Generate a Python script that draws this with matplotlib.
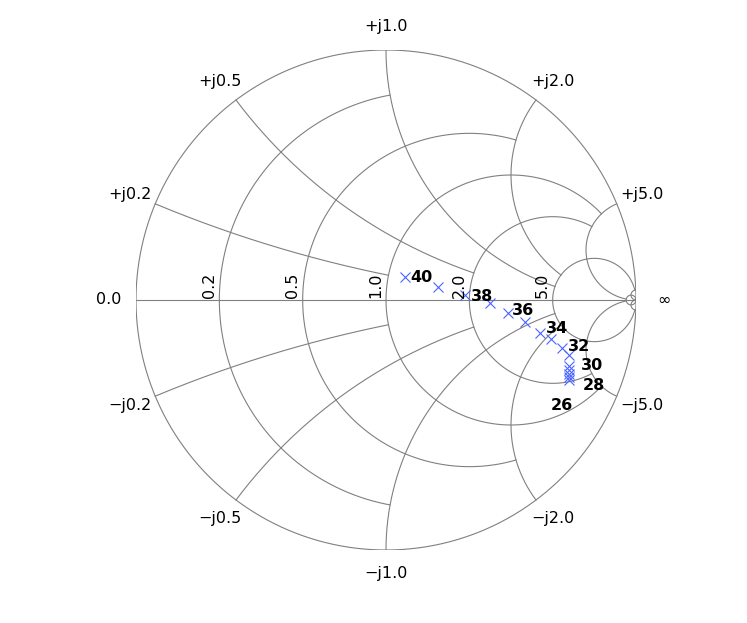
import numpy as np
import matplotlib
matplotlib.use("Agg")
import matplotlib.pyplot as plt

# ---------------- data ----------------
point_ids = [26, 27, 28, 29, 30, 31, 32, 33, 34, 35, 36, 37, 38, 39, 40]
gamma_re = [0.732, 0.732, 0.732, 0.732, 0.731, 0.731, 0.702, 0.660, 0.614,
            0.556, 0.489, 0.416, 0.316, 0.209, 0.076]
gamma_im = [-0.320, -0.308, -0.296, -0.280, -0.264, -0.220, -0.193, -0.156,
            -0.130, -0.087, -0.051, -0.013, 0.020, 0.053, 0.093]
labelled_ids = [26, 28, 30, 32, 34, 36, 38, 40]

res_ticks = [0.2, 0.5, 1.0, 2.0, 5.0]
res_tick_labels = ["0.2", "0.5", "1.0", "2.0", "5.0"]
reac_ticks = [0.2, 0.5, 1.0, 2.0, 5.0]
reac_pos_labels = ["+j0.2", "+j0.5", "+j1.0", "+j2.0", "+j5.0"]
reac_neg_labels = ["\u2212j0.2", "\u2212j0.5", "\u2212j1.0", "\u2212j2.0", "\u2212j5.0"]

# fancy grid: where each arc stops
res_grid = [0.2, 0.5, 1.0, 2.0, 5.0, 50.0]
res_grid_stop = [1.0, 2.0, 5.0, 5.0, 50.0, np.inf]
reac_grid = [0.2, 0.5, 1.0, 2.0, 5.0, 50.0]
reac_grid_stop = [1.0, 2.0, 5.0, 5.0, 50.0, np.inf]

# label offsets in pixels (dx right, dy down)
label_offsets = {40: (5.7, 0.3), 38: (5.7, 1.7), 36: (4.0, -2.7), 34: (6.2, -4.2),
                 32: (6.8, -1.3), 30: (12.6, -1.0), 28: (14.0, 11.7), 26: (-18.3, 25.7)}

# ---------------- figure ----------------
W, H, DPI = 747, 623, 100
fig = plt.figure(figsize=(W / DPI, H / DPI), dpi=DPI)
cx, cy, R = 386, 300, 250
ax = fig.add_axes([(cx - R) / W, (H - cy - R) / H, 2 * R / W, 2 * R / H])
ax.set_xlim(-1, 1)
ax.set_ylim(-1, 1)
ax.axis("off")

grid_color = "0.5"
grid_lw = 0.8


def gam(z):
    return (z - 1) / (z + 1)


# outer circle
t = np.linspace(0, 2 * np.pi, 1000)
ax.plot(np.cos(t), np.sin(t), color=grid_color, lw=grid_lw)
# real axis
ax.plot([-1, 1], [0, 0], color=grid_color, lw=grid_lw)

# resistance circles
for r, xe in zip(res_grid, res_grid_stop):
    c = r / (1 + r)
    rho = 1 / (1 + r)
    if np.isinf(xe):
        th_end = 0.0
    else:
        ge = gam(r + 1j * xe)
        th_end = np.angle(ge - c)
    th = np.linspace(th_end, 2 * np.pi - th_end, 800)
    ax.plot(c + rho * np.cos(th), rho * np.sin(th), color=grid_color, lw=grid_lw)

# reactance arcs
for x, re_stop in zip(reac_grid, reac_grid_stop):
    top = np.arctan(re_stop) if not np.isinf(re_stop) else np.pi / 2 - 1e-7
    psi = np.linspace(0, top, 3000)
    rr = np.tan(psi)
    for s in (1, -1):
        g = gam(rr + 1j * s * x)
        ax.plot(g.real, g.imag, color=grid_color, lw=grid_lw)

fs = 11.5
# real labels
for r, lab in zip(res_ticks, res_tick_labels):
    gl = (r - 1) / (r + 1)
    ax.text(gl - 2.5 / R, 1.5 / R, lab, rotation=90, ha="right", va="bottom",
            fontsize=fs)
ax.text(-1.11, 0, "0.0", ha="center", va="center", fontsize=fs)
ax.text(1.11, 0, "\u221e", ha="center", va="center", fontsize=fs)

# imaginary labels
for x, lp, ln in zip(reac_ticks, reac_pos_labels, reac_neg_labels):
    g = gam(1j * x)
    th = np.angle(g)
    ax.text(1.11 * np.cos(th), 1.093 * np.sin(th), lp, ha="center", va="center",
            fontsize=fs, clip_on=False)
    ax.text(1.11 * np.cos(th), -1.093 * np.sin(th), ln, ha="center", va="center",
            fontsize=fs, clip_on=False)

# data points
ax.plot(gamma_re, gamma_im, linestyle="none", marker="x", markersize=7.6,
        markeredgewidth=0.8, color="#4a64ff")

k = 72.0 / DPI
for pid in labelled_ids:
    i = point_ids.index(pid)
    dx, dy = label_offsets[pid]
    ax.annotate(str(pid), (gamma_re[i], gamma_im[i]), xytext=(dx * k, -dy * k),
                textcoords="offset points", ha="left", va="center",
                fontsize=fs, fontweight="bold")

fig.savefig("out.png", dpi=DPI)
